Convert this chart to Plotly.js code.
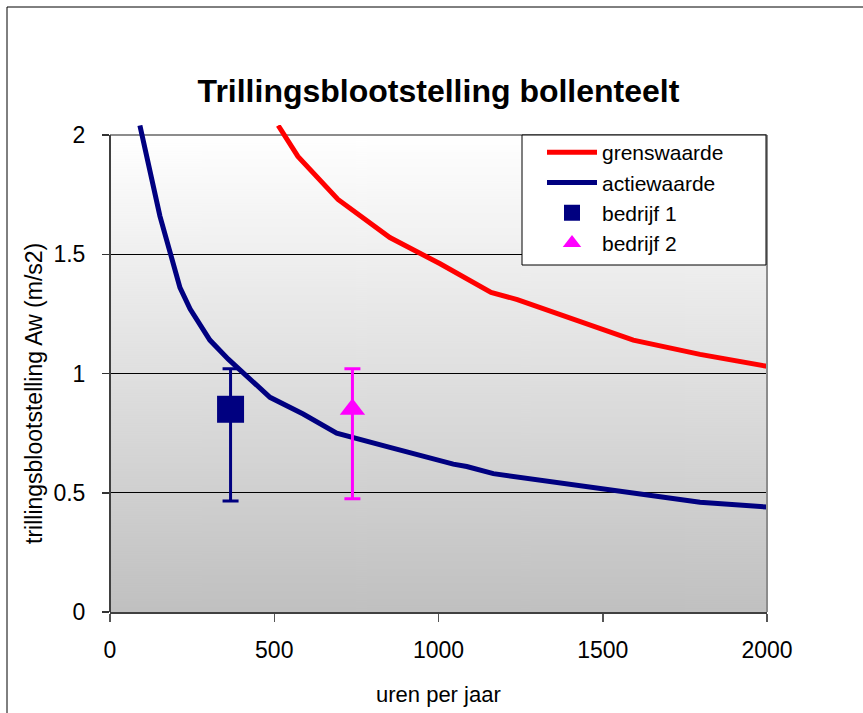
<!DOCTYPE html>
<html><head><meta charset="utf-8">
<script src="https://cdn.plot.ly/plotly-3.0.1.min.js"></script>
<style>html,body{margin:0;padding:0;background:#fff}#chart{width:863px;height:713px}</style>
</head><body><div id="chart"></div>
<script>
// ---- data ----
const grensUren   = [512, 572, 694, 852, 1005, 1160, 1240, 1593, 1796, 2000];
const grensWaarde = [2.04, 1.91, 1.73, 1.57, 1.46, 1.34, 1.31, 1.14, 1.08, 1.03];
const actieUren   = [91, 152, 213, 244, 304, 360, 487, 588, 690, 791, 852, 1045, 1086, 1167, 1380, 1492, 1796, 2000];
const actieWaarde = [2.04, 1.66, 1.36, 1.27, 1.14, 1.06, 0.90, 0.83, 0.75, 0.71, 0.69, 0.62, 0.61, 0.58, 0.54, 0.515, 0.46, 0.44];
const bedrijfNamen  = ['bedrijf 1', 'bedrijf 2'];
const bedrijfUren   = [367, 738];
const bedrijfWaarde = [0.85, 0.85];
const bedrijfMax    = [1.02, 1.02];
const bedrijfMin    = [0.465, 0.475];
const yTicks = [0, 0.5, 1, 1.5, 2];
const xTicks = [0, 500, 1000, 1500, 2000];

// ---- geometry ----
const W = 863, H = 713, ML = 110, MR = 96, MT = 125, MB = 101;
const PW = W - ML - MR, PH = H - MT - MB;      // 657 x 487
const plotTopPx = 135;                          // where value 2 sits
const areaH = (MT + PH) - plotTopPx;            // 477 px for 0..2
const R = 2 * PH / areaH;                       // y range top
const topFrac = areaH / PH;
const px = x => (x - ML) / PW;
const py = y => (MT + PH - y) / PH;

// gradient background
const cv = document.createElement('canvas'); cv.width = 4; cv.height = 477;
const ctx = cv.getContext('2d');
const g = ctx.createLinearGradient(0, 0, 0, 477);
g.addColorStop(0, '#ffffff'); g.addColorStop(1, '#c0c0c0');
ctx.fillStyle = g; ctx.fillRect(0, 0, 4, 477);
const bgURL = cv.toDataURL();

const FONT = 'Liberation Sans, Arial, sans-serif';
const navy = '#000080', red = '#ff0000', magenta = '#ff00ff';

const traces = [
  {x: grensUren, y: grensWaarde, name: 'grenswaarde', type: 'scatter', mode: 'lines',
   line: {color: red, width: 5}},
  {x: actieUren, y: actieWaarde, name: 'actiewaarde', type: 'scatter', mode: 'lines',
   line: {color: navy, width: 5}},
  {x: [bedrijfUren[0]], y: [bedrijfWaarde[0]], name: bedrijfNamen[0], type: 'scatter', mode: 'markers',
   marker: {symbol: 'square', size: 27, color: navy},
   error_y: {type: 'data', symmetric: false, array: [bedrijfMax[0] - bedrijfWaarde[0]],
             arrayminus: [bedrijfWaarde[0] - bedrijfMin[0]], color: navy, thickness: 3, width: 8}},
  {x: [bedrijfUren[1]], y: [bedrijfWaarde[1]], name: bedrijfNamen[1], type: 'scatter', mode: 'markers',
   marker: {symbol: 'triangle-up', size: 22, color: magenta},
   error_y: {type: 'data', symmetric: false, array: [bedrijfMax[1] - bedrijfWaarde[1]],
             arrayminus: [bedrijfWaarde[1] - bedrijfMin[1]], color: magenta, thickness: 3, width: 8}}
];

const layout = {
  width: W, height: H,
  margin: {l: ML, r: MR, t: MT, b: MB, pad: 0},
  paper_bgcolor: '#ffffff', plot_bgcolor: 'rgba(0,0,0,0)',
  font: {family: FONT, color: '#000', size: 23},
  title: {text: 'Trillingsblootstelling bollenteelt', font: {family: FONT, size: 32, weight: 'bold', color: '#000'},
          x: 0.5, xref: 'paper', xanchor: 'center', y: 1 - 91 / H, yref: 'container', yanchor: 'middle'},
  xaxis: {range: [0, 2000], tickvals: xTicks, ticks: 'outside', ticklen: 8, tickwidth: 1.5, tickcolor: '#555',
          showline: true, linecolor: '#404040', linewidth: 2, showgrid: false, zeroline: false,
          tickfont: {size: 23}, ticklabelstandoff: 8},
  yaxis: {range: [0, R], tickvals: yTicks, ticks: 'outside', ticklen: 7, tickwidth: 1.5, tickcolor: '#333',
          showline: false, showgrid: true, gridcolor: '#000', gridwidth: 1, zeroline: false,
          tickfont: {size: 23}, ticklabelstandoff: 12},
  showlegend: true,
  legend: {x: px(542), xanchor: 'left', y: py(132), yanchor: 'top', bgcolor: 'rgba(0,0,0,0)', borderwidth: 0,
           font: {size: 21, family: FONT}, tracegroupgap: 0, itemwidth: 50, traceorder: 'normal'},
  images: [{source: bgURL, xref: 'paper', yref: 'paper', x: 0, y: topFrac, sizex: 1, sizey: topFrac,
            xanchor: 'left', yanchor: 'top', sizing: 'stretch', layer: 'below'}],
  shapes: [
    // outer chart border
    {type: 'rect', xref: 'paper', yref: 'paper', x0: px(7), x1: px(900), y0: py(760), y1: py(7),
     line: {color: '#000', width: 1}, fillcolor: 'rgba(0,0,0,0)', layer: 'below'},
    // plot area top border (under the curves)
    {type: 'line', xref: 'x', yref: 'y', x0: 0, x1: 2000, y0: 2, y1: 2, line: {color: '#8c8c8c', width: 2}, layer: 'between'},
    // right border
    {type: 'line', xref: 'paper', yref: 'paper', x0: 1, x1: 1, y0: 0, y1: topFrac, line: {color: '#8c8c8c', width: 2}, layer: 'above'},
    // left axis line
    {type: 'line', xref: 'paper', yref: 'paper', x0: 0, x1: 0, y0: 0, y1: topFrac, line: {color: '#404040', width: 2}, layer: 'above'},
    // legend box
    {type: 'rect', xref: 'paper', yref: 'paper', x0: px(522), x1: px(766), y0: py(265), y1: py(135),
     line: {color: '#000', width: 1}, fillcolor: '#ffffff', layer: 'above'}
  ],
  annotations: [
    {text: 'uren per jaar', xref: 'paper', yref: 'paper', x: 0.5, y: py(694), xanchor: 'center', yanchor: 'middle',
     showarrow: false, font: {size: 22, family: FONT}},
    {text: 'trillingsblootstelling Aw (m/s2)', xref: 'paper', yref: 'paper', x: px(34), y: py(394), textangle: -90,
     xanchor: 'center', yanchor: 'middle', showarrow: false, font: {size: 23, family: FONT}}
  ]
};

Plotly.newPlot('chart', traces, layout, {displayModeBar: false, staticPlot: true});
</script>
</body></html>
